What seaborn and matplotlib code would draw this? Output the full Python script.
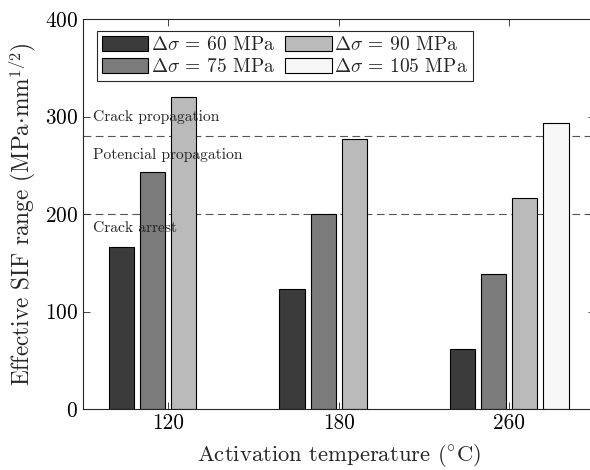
import numpy as np
import pandas as pd
import seaborn as sns
import matplotlib.pyplot as plt

# data
temperatures = ["120", "180", "260"]
stress_labels = [r"$\Delta\sigma$ = 60 MPa", r"$\Delta\sigma$ = 75 MPa",
                 r"$\Delta\sigma$ = 90 MPa", r"$\Delta\sigma$ = 105 MPa"]
sif_60 = [166, 123, 62]
sif_75 = [243, 200, 138]
sif_90 = [320, 277, 216]
sif_105 = [np.nan, np.nan, 293]
thresholds = [280, 200]
zone_labels = ["Crack propagation", "Potencial propagation", "Crack arrest"]
zone_y = [299, 260, 186]

bar_colors = ["#3b3b3b", "#7b7b7b", "#bababa", "#f7f7f7"]

rows = []
for label, vals in zip(stress_labels, [sif_60, sif_75, sif_90, sif_105]):
    for t, v in zip(temperatures, vals):
        rows.append({"temp": t, "stress": label, "sif": v})
df = pd.DataFrame(rows)

sns.set_style("ticks")
plt.rcParams["font.family"] = ["cmr10", "DejaVu Serif"]
plt.rcParams["mathtext.fontset"] = "cm"
plt.rcParams["axes.formatter.use_mathtext"] = True

fig = plt.figure(figsize=(5.9, 4.7), dpi=100)
ax = fig.add_axes([83 / 590, 1 - 409 / 470, 511.5 / 590, 390 / 470])

sns.barplot(data=df, x="temp", y="sif", hue="stress", order=temperatures,
            hue_order=stress_labels, palette=bar_colors, width=0.73, gap=0.19,
            edgecolor="black", linewidth=0.8, saturation=1, ax=ax)

for th in thresholds:
    ax.axhline(th, color="#555555", linestyle=(0, (7, 4)), linewidth=0.8, zorder=0.5)

for txt, yy in zip(zone_labels, zone_y):
    ax.text(-0.44, yy, txt, fontsize=11.2, va="center", ha="left")

ax.set_xlim(-0.5, 2.5)
ax.set_ylim(0, 400)
ax.set_yticks([0, 100, 200, 300, 400])
ax.set_xlabel(r"Activation temperature ($^{\circ}$C)", fontsize=16.3, labelpad=6)
ax.set_ylabel(r"Effective SIF range (MPa$\cdot$mm$^{1/2}$)", fontsize=16.8)
ax.tick_params(direction="in", top=True, right=True, length=5, width=0.6,
               labelsize=15.3, colors="#262626", labelcolor="black")
for sp in ax.spines.values():
    sp.set_visible(True)
    sp.set_linewidth(0.8)
    sp.set_color("#262626")

handles, labels = ax.get_legend_handles_labels()
leg = ax.legend(handles, labels, ncol=2, loc="upper left",
                bbox_to_anchor=(0.027, 0.969), borderaxespad=0, fontsize=14,
                handlelength=2.4, handleheight=0.8, handletextpad=0.15,
                columnspacing=0.5, labelspacing=0.18, borderpad=0.25,
                fancybox=False, framealpha=1, edgecolor="#262626")
leg.get_frame().set_linewidth(0.8)

fig.savefig("out.png", dpi=100)
